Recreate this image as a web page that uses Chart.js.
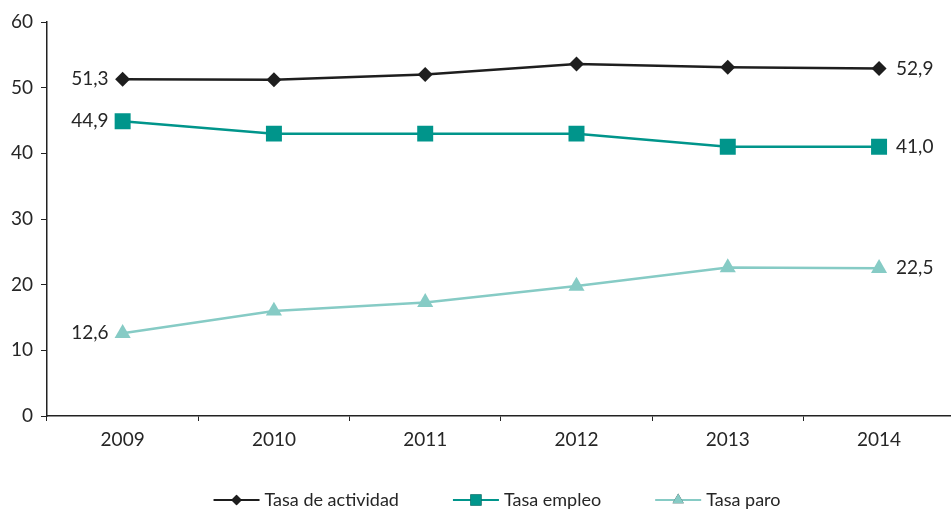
<!DOCTYPE html>
<html lang="es">
<head>
<meta charset="utf-8">
<title>Tasas de actividad, empleo y paro 2009-2014</title>
<script src="https://cdn.jsdelivr.net/npm/chart.js@4.4.1/dist/chart.umd.min.js"></script>
<style>
  html, body { margin: 0; padding: 0; background: #fff; overflow: hidden; }
  #wrap { position: relative; width: 966px; height: 510px; }
</style>
</head>
<body>
<div id="wrap"><canvas id="chart" width="966" height="510"></canvas></div>
<script>
// ---------- data ----------
const years = ["2009", "2010", "2011", "2012", "2013", "2014"];
const tasaActividad = [51.3, 51.2, 52.0, 53.6, 53.1, 52.9];
const tasaEmpleo = [44.9, 43.0, 43.0, 43.0, 41.0, 41.0];
const tasaParo = [12.6, 16.0, 17.3, 19.8, 22.6, 22.5];
const seriesNames = ["Tasa de actividad", "Tasa empleo", "Tasa paro"];
const yTicks = [0, 10, 20, 30, 40, 50, 60];

// ---------- look ----------
const FONT = "Lato, 'Open Sans', sans-serif";
const TEXT = "#262626";
const AXIS = "#222";
const COLORS = ["#1e1e1e", "#00958b", "#86cbc5"];

const fmt = v => v.toFixed(1).replace(".", ",");

// value labels on the first and last point of each line
const endLabels = {
  id: "endLabels",
  afterDatasetsDraw(chart) {
    const ctx = chart.ctx;
    ctx.save();
    ctx.font = "19px " + FONT;
    ctx.fillStyle = TEXT;
    ctx.textBaseline = "middle";
    chart.data.datasets.forEach((ds, i) => {
      const pts = chart.getDatasetMeta(i).data;
      const first = pts[0], last = pts[pts.length - 1];
      ctx.textAlign = "right";
      ctx.fillText(fmt(ds.data[0]), first.x - 14, first.y);
      ctx.textAlign = "left";
      ctx.fillText(fmt(ds.data[ds.data.length - 1]), last.x + 17, last.y);
    });
    ctx.restore();
  }
};

// legend: line sample with marker, then the name
const lineLegend = {
  id: "lineLegend",
  afterDraw(chart) {
    const ctx = chart.ctx;
    const sampleW = 46, textGap = 5, itemGap = 54, cx = 497, cy = 500;
    ctx.save();
    ctx.font = "18px " + FONT;
    const items = chart.data.datasets.map(ds => ({ ds, w: sampleW + textGap + ctx.measureText(ds.label).width }));
    const total = items.reduce((s, it) => s + it.w, 0) + itemGap * (items.length - 1);
    let x = cx - total / 2;
    items.forEach(({ ds }, idx) => {
      ctx.strokeStyle = ds.borderColor;
      ctx.lineWidth = 2;
      ctx.beginPath();
      ctx.moveTo(x, cy);
      ctx.lineTo(x + sampleW, cy);
      ctx.stroke();
      const r = ds.pointRadius * 0.7;
      Chart.helpers.drawPoint(ctx, {
        pointStyle: ds.pointStyle, radius: r, rotation: 0, borderWidth: 0
      }, x + sampleW / 2, cy);
      ctx.fillStyle = ds.borderColor;
      ctx.fill();
      ctx.fillStyle = TEXT;
      ctx.textAlign = "left";
      ctx.textBaseline = "middle";
      ctx.fillText(ds.label, x + sampleW + textGap, cy);
      x += items[idx].w + itemGap;
    });
    ctx.restore();
  }
};

const mkSet = (label, data, color, style, radius) => ({
  label, data,
  borderColor: color,
  backgroundColor: color,
  borderWidth: 2.5,
  pointStyle: style,
  pointRadius: radius,
  pointHoverRadius: radius,
  pointBorderWidth: 0,
  pointBackgroundColor: color,
  tension: 0,
  fill: false
});

new Chart(document.getElementById("chart"), {
  type: "line",
  data: {
    labels: years,
    datasets: [
      mkSet(seriesNames[0], tasaActividad, COLORS[0], "rectRot", 7.5),
      mkSet(seriesNames[1], tasaEmpleo, COLORS[1], "rect", 11.3),
      mkSet(seriesNames[2], tasaParo, COLORS[2], "triangle", 9.3)
    ]
  },
  options: {
    responsive: false,
    animation: false,
    layout: { padding: { top: 22, right: 1, bottom: 54, left: 0 } },
    plugins: {
      legend: { display: false },
      tooltip: { enabled: false }
    },
    scales: {
      x: {
        type: "category",
        offset: true,
        grid: { offset: true, drawOnChartArea: false, drawTicks: true, tickLength: 5, color: AXIS, lineWidth: 1 },
        border: { color: AXIS, width: 1.5 },
        ticks: { font: { family: FONT, size: 19 }, color: TEXT, padding: 7, maxRotation: 0 },
        afterFit(s) { s.height = 40; }
      },
      y: {
        min: yTicks[0],
        max: yTicks[yTicks.length - 1],
        afterBuildTicks(s) { s.ticks = yTicks.map(v => ({ value: v })); },
        grid: { drawOnChartArea: false, drawTicks: true, tickLength: 6, color: AXIS, lineWidth: 1 },
        border: { color: AXIS, width: 1.5 },
        ticks: { font: { family: FONT, size: 19 }, color: TEXT, padding: 8 },
        afterFit(s) { s.width = 47; }
      }
    }
  },
  plugins: [endLabels, lineLegend]
});
</script>
</body>
</html>
